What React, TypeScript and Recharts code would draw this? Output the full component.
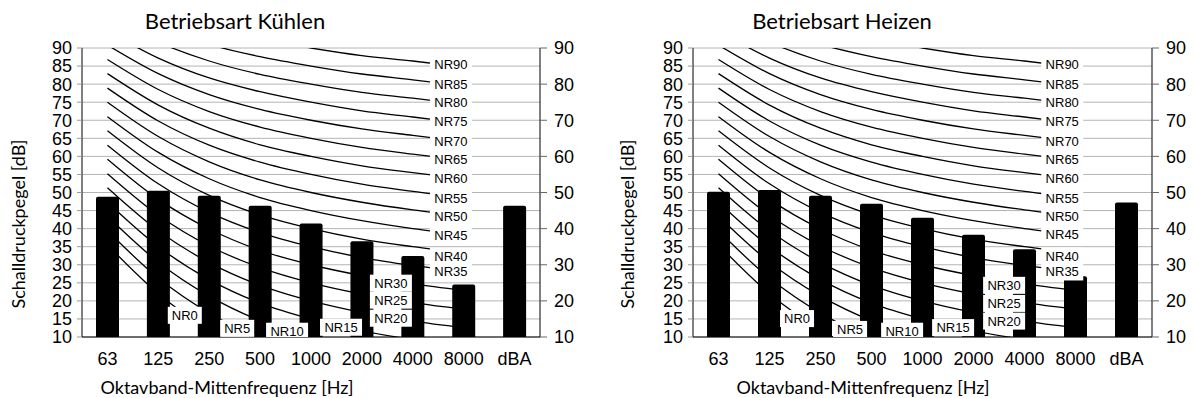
import { ComposedChart, Bar, Line, Scatter, XAxis, YAxis, CartesianGrid } from "recharts";

const categories = ["63", "125", "250", "500", "1000", "2000", "4000", "8000", "dBA"];

const coolingLevels = [48.8, 50.5, 49.1, 46.3, 41.4, 36.5, 32.4, 24.5, 46.3];
const heatingLevels = [50.2, 50.7, 49.1, 46.9, 43.0, 38.3, 34.3, 26.8, 47.2];

const nrNames = [
  "NR0", "NR5", "NR10", "NR15", "NR20", "NR25", "NR30", "NR35", "NR40", "NR45",
  "NR50", "NR55", "NR60", "NR65", "NR70", "NR75", "NR80", "NR85", "NR90",
];

// NR curves, 63 .. 8000 Hz
const nrCurves = [
  [35.5, 22.0, 12.0, 4.8, 0, -3.5, -6.1, -8.0],
  [39.4, 26.3, 16.6, 9.7, 5, 1.6, -1.0, -2.8],
  [43.4, 30.7, 21.3, 14.5, 10, 6.6, 4.2, 2.3],
  [47.3, 35.0, 25.9, 19.4, 15, 11.7, 9.3, 7.4],
  [51.3, 39.4, 30.6, 24.3, 20, 16.8, 14.4, 12.6],
  [55.2, 43.7, 35.2, 29.2, 25, 21.9, 19.5, 17.7],
  [59.2, 48.1, 39.9, 34.0, 30, 27.0, 24.7, 22.9],
  [63.1, 52.4, 44.5, 38.9, 35, 32.0, 29.8, 28.0],
  [67.1, 56.8, 49.2, 43.8, 40, 37.1, 35.0, 33.2],
  [71.0, 61.1, 53.8, 48.6, 45, 42.2, 40.0, 38.3],
  [75.0, 65.5, 58.5, 53.5, 50, 47.3, 45.2, 43.5],
  [78.9, 69.8, 63.1, 58.4, 55, 52.3, 50.3, 48.6],
  [82.9, 74.2, 67.8, 63.2, 60, 57.4, 55.5, 53.8],
  [86.8, 78.5, 72.4, 68.1, 65, 62.5, 60.6, 58.9],
  [90.8, 82.9, 77.1, 73.0, 70, 67.6, 65.8, 64.1],
  [94.7, 87.2, 81.7, 77.9, 75, 72.6, 70.9, 69.2],
  [98.7, 91.6, 86.4, 82.7, 80, 77.7, 76.1, 74.4],
  [102.6, 95.9, 91.0, 87.6, 85, 82.8, 81.2, 79.5],
  [106.6, 100.3, 95.7, 92.5, 90, 87.9, 86.4, 84.7],
];

// label positions (x in category index, y in dB)
const coolingLabelX = [1.52, 2.55, 3.53, 4.59, 5.57, 5.57, 5.57, 6.75, 6.75, 6.75, 6.75, 6.75, 6.75, 6.75, 6.75, 6.75, 6.75, 6.75, 6.75];
const coolingLabelY = [16.0, 12.4, 11.6, 12.7, 15.2, 20.2, 24.9, 28.0, 32.3, 38.2, 43.3, 48.4, 53.9, 59.0, 64.1, 69.6, 74.9, 80.0, 85.3];
const heatingLabelX = [1.54, 2.58, 3.6, 4.6, 5.6, 5.6, 5.6, 6.74, 6.74, 6.74, 6.74, 6.74, 6.74, 6.74, 6.74, 6.74, 6.74, 6.74, 6.74];
const heatingLabelY = [15.1, 12.1, 11.6, 12.6, 14.4, 19.3, 24.3, 28.0, 32.4, 38.4, 43.3, 48.4, 53.9, 59.0, 64.1, 69.6, 74.9, 80.0, 85.3];

const majorLeft = [10, 15, 20, 25, 30, 35, 40, 45, 50, 55, 60, 65, 70, 75, 80, 85, 90];
const majorRight = [10, 20, 30, 40, 50, 60, 70, 80, 90];
const minorTicks = Array.from({ length: 81 }, (_, i) => 10 + i);

const tickFont = { fill: "#000", fontSize: 18, fontFamily: "'Liberation Sans', Arial, sans-serif" };
const textFont = "Lato, 'Open Sans', sans-serif";

const MinorLeft = (p: any) => <line x1={p.x - 4} x2={p.x} y1={p.y} y2={p.y} stroke="#aaa" />;
const MinorRight = (p: any) => <line x1={p.x - 4} x2={p.x + 4} y1={p.y} y2={p.y} stroke="#aaa" />;

const NrLabel = (p: any) => {
  const { cx, cy, payload } = p;
  const w = payload.name.length === 3 ? 34 : 42;
  return (
    <g>
      <rect x={cx - w / 2} y={cy - 8.5} width={w} height={17} fill="#fff" />
      <text x={cx} y={cy} textAnchor="middle" dominantBaseline="central" fontSize={13} fontFamily="'Liberation Sans', Arial, sans-serif" fill="#000">
        {payload.name}
      </text>
    </g>
  );
};

const Panel = ({ levels, labelX, labelY, leftW, rightW }: any) => {
  const rows = categories.map((c, i) => {
    const row: any = { cat: c, level: levels[i] };
    if (i < 8) nrNames.forEach((n, k) => (row[n] = nrCurves[k][i]));
    return row;
  });
  const labels = nrNames.map((n, k) => ({ name: n, x: labelX[k], y: labelY[k] }));

  return (
    <ComposedChart width={596} height={398} data={rows} margin={{ top: 48, right: 0, bottom: 0, left: 0 }}>
      <CartesianGrid xAxisId="cat" yAxisId="left" vertical={false} stroke="#b4b4b4" />
      <XAxis xAxisId="cat" dataKey="cat" height={61} interval={0} tickLine={false} tickSize={0} tickMargin={15} axisLine={{ stroke: "#000" }} tick={tickFont} />
      <XAxis xAxisId="num" dataKey="x" type="number" domain={[-0.5, 8.5]} allowDataOverflow hide />
      <YAxis yAxisId="left" width={leftW} domain={[10, 90]} ticks={majorLeft} interval={0} allowDataOverflow tickSize={5} tickMargin={5} tickLine={{ stroke: "#999" }} axisLine={{ stroke: "#000" }} tick={tickFont} />
      <YAxis yAxisId="leftMinor" width={0} domain={[10, 90]} ticks={minorTicks} interval={0} allowDataOverflow tickSize={0} tickMargin={0} tickLine={false} axisLine={false} tick={MinorLeft} />
      <YAxis yAxisId="rightMinor" orientation="right" width={0} domain={[10, 90]} ticks={minorTicks} interval={0} allowDataOverflow tickSize={0} tickMargin={0} tickLine={false} axisLine={false} tick={MinorRight} />
      <YAxis yAxisId="right" orientation="right" width={rightW} domain={[10, 90]} ticks={majorRight} interval={0} allowDataOverflow tickSize={7} tickMargin={7} tickLine={{ stroke: "#666" }} axisLine={{ stroke: "#000" }} tick={tickFont} />
      {nrNames.map((n) => (
        <Line key={n} xAxisId="cat" yAxisId="left" dataKey={n} type="monotone" stroke="#000" strokeWidth={1.3} dot={false} activeDot={false} isAnimationActive={false} />
      ))}
      <Bar xAxisId="cat" yAxisId="left" dataKey="level" fill="#000" barSize={23} radius={[2, 2, 0, 0]} isAnimationActive={false} />
      <Scatter xAxisId="num" yAxisId="left" dataKey="y" data={labels} shape={NrLabel} isAnimationActive={false} />
    </ComposedChart>
  );
};

const abs = (style: any) => ({ position: "absolute" as const, whiteSpace: "nowrap" as const, fontFamily: textFont, color: "#000", ...style });

export default function App() {
  return (
    <div style={{ position: "absolute", left: 0, top: 0, width: 1193, height: 398, background: "#fff" }}>
      <div style={{ position: "absolute", left: 0, top: 0 }}>
        <Panel levels={coolingLevels} labelX={coolingLabelX} labelY={coolingLabelY} leftW={82} rightW={56} />
      </div>
      <div style={{ position: "absolute", left: 597, top: 0 }}>
        <Panel levels={heatingLevels} labelX={heatingLabelX} labelY={heatingLabelY} leftW={96} rightW={41} />
      </div>
      <div style={abs({ left: 235, top: 20, fontSize: 22, transform: "translate(-50%,-50%)" })}>Betriebsart Kühlen</div>
      <div style={abs({ left: 842, top: 20, fontSize: 22, transform: "translate(-50%,-50%)" })}>Betriebsart Heizen</div>
      <div style={abs({ left: 227, top: 387, fontSize: 18, transform: "translate(-50%,-50%)" })}>Oktavband-Mittenfrequenz [Hz]</div>
      <div style={abs({ left: 863, top: 387, fontSize: 18, transform: "translate(-50%,-50%)" })}>Oktavband-Mittenfrequenz [Hz]</div>
      <div style={abs({ left: 18, top: 224, fontSize: 18, transform: "translate(-50%,-50%) rotate(-90deg)" })}>Schalldruckpegel [dB]</div>
      <div style={abs({ left: 627, top: 224, fontSize: 18, transform: "translate(-50%,-50%) rotate(-90deg)" })}>Schalldruckpegel [dB]</div>
    </div>
  );
}
